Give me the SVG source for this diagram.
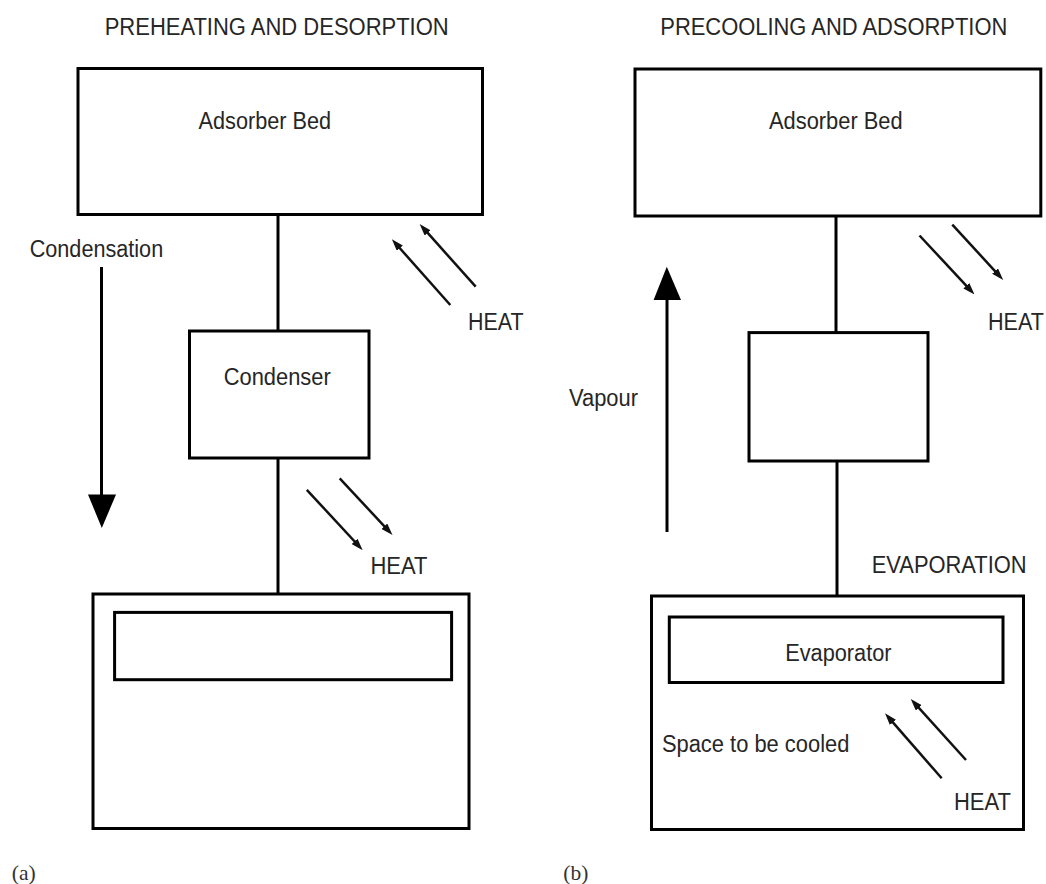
<svg xmlns="http://www.w3.org/2000/svg" width="1046" height="884" viewBox="0 0 1046 884">
  <style>
    .box { fill: none; stroke: #000; stroke-width: 3; }
    .pipe { fill: none; stroke: #000; stroke-width: 3; }
    .heat { fill: none; stroke: #111; stroke-width: 2.5; marker-end: url(#ah); }
    .big { fill: #000; stroke: none; }
    .t { font-family: "Liberation Sans", Arial, Helvetica, sans-serif; font-size: 23px; fill: #262626; }
    .lab { font-family: "Liberation Serif", "Times New Roman", serif; font-size: 21px; fill: #333; }
  </style>
  <defs>
    <marker id="ah" viewBox="0 0 12 8" refX="7" refY="4" markerWidth="12" markerHeight="8" markerUnits="userSpaceOnUse" orient="auto">
      <path d="M0,0 L12,4 L0,8 z" fill="#111"/>
    </marker>
  </defs>
  <rect width="1046" height="884" fill="#fff"/>

  <!-- Titles -->
  <g id="titles">
    <text class="t" x="104.7" y="35" textLength="344" lengthAdjust="spacingAndGlyphs">PREHEATING AND DESORPTION</text>
    <text class="t" x="660.3" y="35" textLength="347" lengthAdjust="spacingAndGlyphs">PRECOOLING AND ADSORPTION</text>
  </g>

  <!-- Left panel (a) -->
  <g id="a-adsorber">
    <rect class="box" x="78" y="68.5" width="404.5" height="146"/>
    <text class="t" x="198.6" y="128.5" textLength="132.5" lengthAdjust="spacingAndGlyphs">Adsorber Bed</text>
  </g>
  <g id="a-condenser">
    <rect class="box" x="189.5" y="331" width="179.5" height="127"/>
    <text class="t" x="223.7" y="384.7" textLength="107" lengthAdjust="spacingAndGlyphs">Condenser</text>
  </g>
  <g id="a-evaporator-space">
    <rect class="box" x="93" y="594" width="376" height="234.5"/>
  </g>
  <g id="a-evaporator">
    <rect class="box" x="114.6" y="612.4" width="337" height="67.3"/>
  </g>
  <g id="a-labels">
    <text class="t" x="29.7" y="257" textLength="133.5" lengthAdjust="spacingAndGlyphs">Condensation</text>
    <text class="t" x="468" y="330" textLength="55.5" lengthAdjust="spacingAndGlyphs">HEAT</text>
    <text class="t" x="370.5" y="573.6" textLength="57" lengthAdjust="spacingAndGlyphs">HEAT</text>
    <text class="lab" x="11.7" y="880" textLength="24" lengthAdjust="spacingAndGlyphs">(a)</text>
  </g>

  <!-- Right panel (b) -->
  <g id="b-adsorber">
    <rect class="box" x="635" y="69" width="405.8" height="147"/>
    <text class="t" x="769" y="128.5" textLength="133.6" lengthAdjust="spacingAndGlyphs">Adsorber Bed</text>
  </g>
  <g id="b-condenser">
    <rect class="box" x="749" y="332.6" width="179" height="128.4"/>
  </g>
  <g id="b-evaporator-space">
    <rect class="box" x="651.5" y="596" width="372" height="233.5"/>
    <text class="t" x="661.9" y="751.7" textLength="187.5" lengthAdjust="spacingAndGlyphs">Space to be cooled</text>
  </g>
  <g id="b-evaporator">
    <rect class="box" x="669.3" y="617" width="333.7" height="65.5"/>
    <text class="t" x="785.2" y="661" textLength="106.4" lengthAdjust="spacingAndGlyphs">Evaporator</text>
  </g>
  <g id="b-labels">
    <text class="t" x="569" y="406.3" textLength="69" lengthAdjust="spacingAndGlyphs">Vapour</text>
    <text class="t" x="871.7" y="573.3" textLength="155" lengthAdjust="spacingAndGlyphs">EVAPORATION</text>
    <text class="t" x="988" y="330" textLength="56" lengthAdjust="spacingAndGlyphs">HEAT</text>
    <text class="t" x="954" y="810" textLength="57" lengthAdjust="spacingAndGlyphs">HEAT</text>
    <text class="lab" x="563.3" y="880" textLength="25" lengthAdjust="spacingAndGlyphs">(b)</text>
  </g>

  <!-- Connectors -->
  <g id="connectors">
    <!-- pipes -->
    <line class="pipe" x1="278" y1="214.5" x2="278" y2="331"/>
    <line class="pipe" x1="278" y1="458" x2="278" y2="594"/>
    <line class="pipe" x1="836" y1="216" x2="836" y2="332.6"/>
    <line class="pipe" x1="837" y1="461" x2="837" y2="596"/>

    <!-- condensation arrow (down) -->
    <line class="pipe" x1="101.5" y1="267" x2="101.5" y2="496"/>
    <polygon class="big" points="88,494.5 116,494.5 101.8,528"/>

    <!-- vapour arrow (up) -->
    <line class="pipe" x1="667" y1="532" x2="667" y2="298"/>
    <polygon class="big" points="653.6,300 681,300 666.8,266.7"/>

    <!-- heat arrows (a) -->
    <line class="heat" x1="450.3" y1="305" x2="395.2" y2="243"/>
    <line class="heat" x1="475.7" y1="286.7" x2="423" y2="227.7"/>
    <line class="heat" x1="306.8" y1="489.8" x2="359.3" y2="546.5"/>
    <line class="heat" x1="339.7" y1="478.3" x2="389.1" y2="531.4"/>

    <!-- heat arrows (b) -->
    <line class="heat" x1="919.5" y1="235.5" x2="971.1" y2="290.8"/>
    <line class="heat" x1="952.3" y1="224.6" x2="999.8" y2="276.3"/>
    <line class="heat" x1="941.7" y1="778.3" x2="888.3" y2="717.1"/>
    <line class="heat" x1="966" y1="760" x2="914.1" y2="702.7"/>
  </g>
</svg>
